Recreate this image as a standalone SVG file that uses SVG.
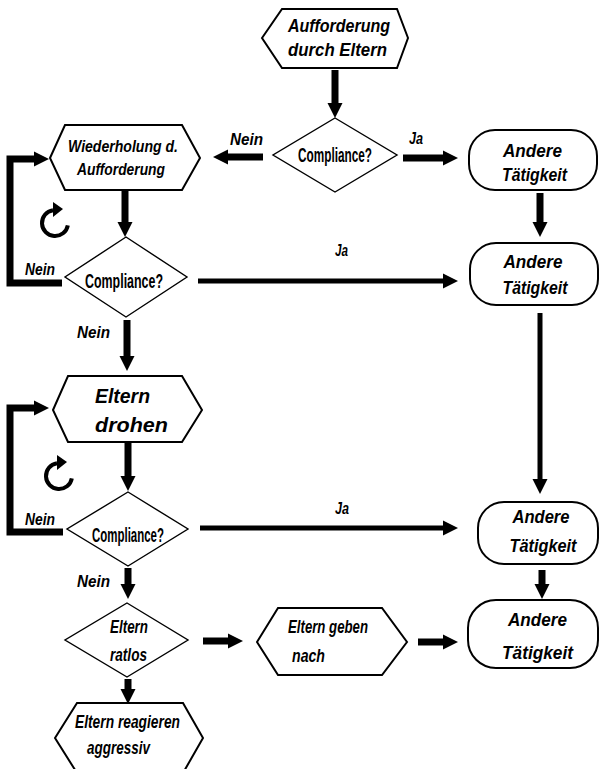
<svg xmlns="http://www.w3.org/2000/svg" width="601" height="769" viewBox="0 0 601 769">
<style>
.shape{fill:#fff;stroke:#000;stroke-width:2;stroke-linejoin:miter}
.dia{fill:#fff;stroke:#000;stroke-width:1.4}
.t{font-family:"Liberation Sans",Arial,sans-serif;font-weight:bold;font-style:italic;font-size:18px;fill:#000;text-anchor:middle}
.c{font-family:"Liberation Sans",Arial,sans-serif;font-weight:bold;font-size:20px;fill:#000;text-anchor:middle}
.lbl{font-family:"Liberation Sans",Arial,sans-serif;font-weight:bold;font-style:italic;font-size:16px;fill:#000}
.a{fill:none;stroke:#000;stroke-width:7;marker-end:url(#ah)}
.a5{fill:none;stroke:#000;stroke-width:5;marker-end:url(#ah)}
</style>
<defs>
<marker id="ah" viewBox="0 0 10 10" refX="0" refY="5" markerWidth="15" markerHeight="20" markerUnits="userSpaceOnUse" orient="auto">
<path d="M0,0 L10,5 L0,10 z" fill="#000"/>
</marker>
</defs>
<g id="connectors">
<path class="a" d="M335,70 V103"/>
<path class="a" d="M403,158 H443"/>
<path class="a" d="M263,157 H228"/>
<path class="a" d="M540,193 V222"/>
<path class="a" d="M125,190 V222"/>
<path class="a" d="M62,283 H10 V159 H34"/>
<path class="a5" d="M198,281 H443"/>
<path class="a" d="M127,320 V356"/>
<path class="a" d="M128,442 V476"/>
<path class="a5" d="M540,313 V479"/>
<path class="a" d="M63,532 H10 V408 H34"/>
<path class="a5" d="M200,528 H443"/>
<path class="a" d="M128,568 V584"/>
<path class="a" d="M542,570 V584"/>
<path class="a" d="M203,641 H228"/>
<path class="a" d="M418,642 H443"/>
<path class="a" d="M128,679 V689"/>
<g id="loop1">
<path d="M67.8,225.3 A13 13 0 1 1 53,210.2" fill="none" stroke="#000" stroke-width="4"/>
<polygon points="63,209 53,202 53,217" fill="#000"/>
</g>
<g id="loop2">
<path d="M71.8,478.3 A13 13 0 1 1 57,463.2" fill="none" stroke="#000" stroke-width="4"/>
<polygon points="67,462 57,455 57,470" fill="#000"/>
</g>
<text class="lbl" x="230" y="145" textLength="33" lengthAdjust="spacingAndGlyphs">Nein</text>
<text class="lbl" x="409" y="144" textLength="14" lengthAdjust="spacingAndGlyphs">Ja</text>
<text class="lbl" x="25" y="275" textLength="30" lengthAdjust="spacingAndGlyphs">Nein</text>
<text class="lbl" x="335" y="256" textLength="13" lengthAdjust="spacingAndGlyphs">Ja</text>
<text class="lbl" x="77" y="338" textLength="33" lengthAdjust="spacingAndGlyphs">Nein</text>
<text class="lbl" x="25" y="525" textLength="30" lengthAdjust="spacingAndGlyphs">Nein</text>
<text class="lbl" x="335" y="514" textLength="14" lengthAdjust="spacingAndGlyphs">Ja</text>
<text class="lbl" x="77" y="587" textLength="33" lengthAdjust="spacingAndGlyphs">Nein</text>
</g>
<g id="n1">
<polygon class="shape" points="262,38 282,9 397,9 408,38 397,68 282,68"/>
<text class="t" x="339" y="32" textLength="102" lengthAdjust="spacingAndGlyphs">Aufforderung</text>
<text class="t" x="337.5" y="56" textLength="99" lengthAdjust="spacingAndGlyphs">durch  Eltern</text>
</g>
<g id="d1">
<polygon class="dia" points="335,118 397,155 335,192 273,155"/>
<text class="c" x="335" y="162" textLength="74" lengthAdjust="spacingAndGlyphs">Compliance?</text>
</g>
<g id="b1">
<rect class="shape" x="469" y="130" width="128" height="60" rx="26"/>
<text class="t" x="532.5" y="157" textLength="59" lengthAdjust="spacingAndGlyphs">Andere</text>
<text class="t" x="534.5" y="181" textLength="65" lengthAdjust="spacingAndGlyphs">Tätigkeit</text>
</g>
<g id="h2">
<polygon class="shape" points="50,158 65,125 182,125 200,158 182,190 65,190"/>
<text class="t" style="font-size:16px" x="123" y="152" textLength="110" lengthAdjust="spacingAndGlyphs">Wiederholung  d.</text>
<text class="t" style="font-size:16px" x="121" y="175" textLength="88" lengthAdjust="spacingAndGlyphs">Aufforderung</text>
</g>
<g id="d2">
<polygon class="dia" points="126,237 187,277 126,317 65,277"/>
<text class="c" x="124" y="288" textLength="78" lengthAdjust="spacingAndGlyphs">Compliance?</text>
</g>
<g id="b2">
<rect class="shape" x="470" y="243" width="128" height="62" rx="26"/>
<text class="t" x="533" y="268" textLength="59" lengthAdjust="spacingAndGlyphs">Andere</text>
<text class="t" x="535" y="294" textLength="65" lengthAdjust="spacingAndGlyphs">Tätigkeit</text>
</g>
<g id="h3">
<polygon class="shape" points="53,410 68,376 182,376 202,410 182,442 68,442"/>
<text class="t" style="font-size:20px" x="122.5" y="403" textLength="55" lengthAdjust="spacingAndGlyphs">Eltern</text>
<text class="t" style="font-size:20px" x="131.5" y="432" textLength="73" lengthAdjust="spacingAndGlyphs">drohen</text>
</g>
<g id="d3">
<polygon class="dia" points="128,492 188,529 128,566 67,529"/>
<text class="c" x="128" y="542" textLength="72" lengthAdjust="spacingAndGlyphs">Compliance?</text>
</g>
<g id="b3">
<rect class="shape" x="478" y="502" width="120" height="62" rx="26"/>
<text class="t" x="541" y="523" textLength="57" lengthAdjust="spacingAndGlyphs">Andere</text>
<text class="t" x="543" y="552" textLength="67" lengthAdjust="spacingAndGlyphs">Tätigkeit</text>
</g>
<g id="d4">
<polygon class="dia" points="127,603 188,640 127,677 65,640"/>
<text class="t" style="font-size:19px" x="129" y="633" textLength="38" lengthAdjust="spacingAndGlyphs">Eltern</text>
<text class="t" style="font-size:19px" x="128.5" y="661" textLength="37" lengthAdjust="spacingAndGlyphs">ratlos</text>
</g>
<g id="h4">
<polygon class="shape" points="257,642 278,608 382,608 407,642 382,675 278,675"/>
<text class="t" x="328" y="633" textLength="80" lengthAdjust="spacingAndGlyphs">Eltern  geben</text>
<text class="t" x="308.5" y="662" textLength="33" lengthAdjust="spacingAndGlyphs">nach</text>
</g>
<g id="b4">
<rect class="shape" x="468" y="600" width="130" height="68" rx="28"/>
<text class="t" x="537.5" y="626" textLength="59" lengthAdjust="spacingAndGlyphs">Andere</text>
<text class="t" x="537.5" y="659" textLength="71" lengthAdjust="spacingAndGlyphs">Tätigkeit</text>
</g>
<g id="h5">
<polygon class="shape" points="55,738 77,703 183,703 203,738 183,773 77,773"/>
<text class="t" x="127.5" y="728" textLength="105" lengthAdjust="spacingAndGlyphs">Eltern  reagieren</text>
<text class="t" x="118.5" y="754" textLength="63" lengthAdjust="spacingAndGlyphs">aggressiv</text>
</g>
</svg>
